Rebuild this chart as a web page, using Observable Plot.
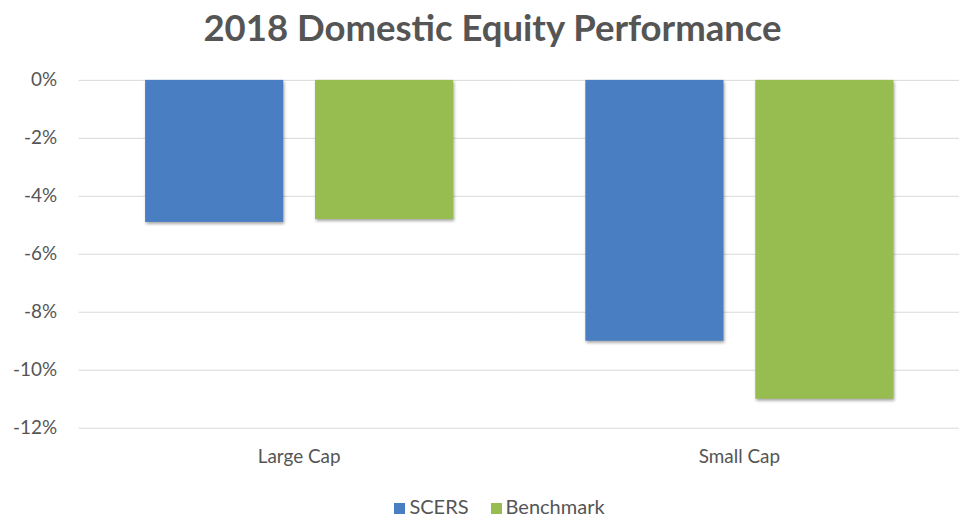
<!DOCTYPE html>
<html>
<head>
<meta charset="utf-8">
<script src="https://cdn.jsdelivr.net/npm/d3@7"></script>
<script src="https://cdn.jsdelivr.net/npm/@observablehq/plot@0.6"></script>
<style>
  html, body { margin: 0; padding: 0; background: #fff; }
  body { width: 959px; height: 519px; overflow: hidden; font-family: Lato, "Open Sans", sans-serif; }
  #title { height: 58px; line-height: 54px; text-align: center; font-weight: 700; font-size: 36.5px; color: #555555; padding-left: 26px; }
  #chart { width: 959px; overflow: hidden; height: 432px; margin-top: 2px; }
  #chart svg { display: block; }
  #legend { text-align: center; font-size: 20px; color: #555555; margin-top: 2px; padding-left: 40px; }
  #legend span.sw { display: inline-block; width: 11px; height: 11px; margin-right: 4px; vertical-align: 0px; }
  #legend span.item { margin: 0 11px; }
</style>
</head>
<body>
<div id="title">2018 Domestic Equity Performance</div>
<div id="chart"></div>
<div id="legend"></div>
<script>
const categories = ["Large Cap", "Small Cap"];
const seriesNames = ["SCERS", "Benchmark"];
const scersValues = [-4.9, -9.0];
const benchmarkValues = [-4.8, -11.0];
const yTicks = [0, -2, -4, -6, -8, -10, -12];
const colors = ["#4a7ec2", "#97bd50"];

const data = [];
categories.forEach((c, i) => {
  data.push({category: c, series: seriesNames[0], value: scersValues[i]});
  data.push({category: c, series: seriesNames[1], value: benchmarkValues[i]});
});

const chart = Plot.plot({
  width: 965,
  height: 432,
  marginLeft: 78,
  marginRight: 0,
  marginTop: 20,
  marginBottom: 62,
  style: {fontFamily: "Lato, 'Open Sans', sans-serif", fontSize: "19px", color: "#555555", background: "#fff"},
  fx: {domain: categories, padding: 0, label: null, axis: "bottom", tickSize: 0, tickPadding: 22},
  x: {domain: seriesNames, paddingInner: 0.19, paddingOuter: 0.39, axis: null},
  y: {domain: [-12, 0], ticks: yTicks, tickFormat: d => d + "%", tickSize: 0, tickPadding: 22, label: null},
  color: {domain: seriesNames, range: colors},
  marks: [
    Plot.gridY(yTicks, {stroke: "#d9d9d9", strokeOpacity: 1, strokeWidth: 1}),
    Plot.barY(data, {fx: "category", x: "series", y: "value", fill: "series"})
  ]
});
chart.querySelectorAll("g[aria-label='bar'] rect").forEach(r => r.style.filter = "drop-shadow(1px 2px 1.5px rgba(0,0,0,0.35))");
document.getElementById("chart").appendChild(chart);

const legend = document.getElementById("legend");
seriesNames.forEach((s, i) => {
  const item = document.createElement("span");
  item.className = "item";
  const sw = document.createElement("span");
  sw.className = "sw";
  sw.style.background = colors[i];
  item.appendChild(sw);
  item.appendChild(document.createTextNode(s));
  legend.appendChild(item);
});
</script>
</body>
</html>
